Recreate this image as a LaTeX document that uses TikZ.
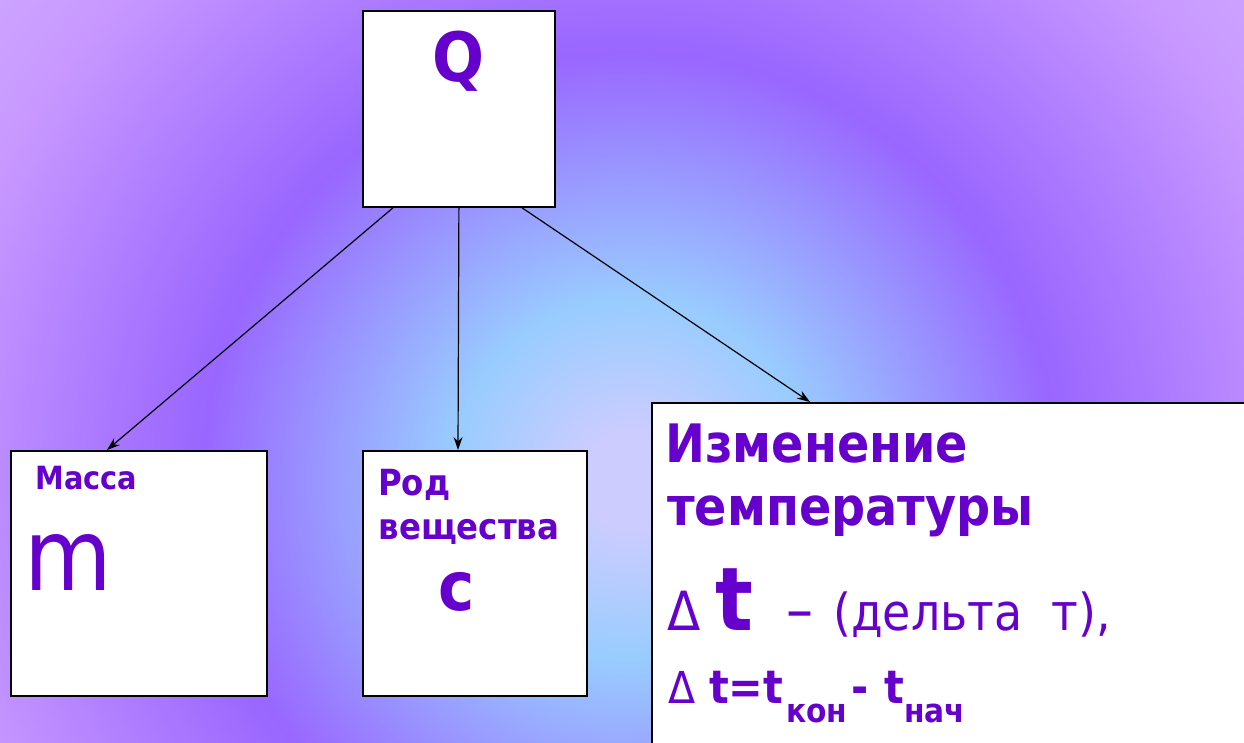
\documentclass[tikz,border=0pt]{standalone}
\usepackage{fontspec}
\setmainfont{DejaVu Sans}[FakeStretch=0.9]
\usetikzlibrary{arrows.meta,calc}
\definecolor{txt}{HTML}{6600CC}
\definecolor{bgO}{HTML}{CCCCFF}
\definecolor{bgA}{HTML}{99CCFF}
\definecolor{bgB}{HTML}{9966FF}
\definecolor{bgC}{HTML}{C898FF}
\definecolor{bgD}{HTML}{CCA4FF}
\pgfdeclareradialshading{bgshade}{\pgfpoint{0bp}{0bp}}{color(0bp)=(bgO); color(1.5bp)=(bgO); color(5.6bp)=(bgA); color(13.4bp)=(bgB); color(21.9bp)=(bgC); color(25bp)=(bgD); color(50bp)=(bgD)}
\begin{document}
\begin{tikzpicture}[x=1pt,y=-1pt,
  box/.style={draw=black,line width=1.8pt,fill=white,inner sep=0pt,anchor=north west},
  lbl/.style={text=txt,inner sep=0pt,anchor=base west},
  arr/.style={line width=1.2pt,-{Stealth[length=13pt,width=9pt]}}]
\useasboundingbox (0,0) rectangle (1244,743);
\begin{scope}
\clip (0,0) rectangle (1244,743);
\fill[bgD] (0,0) rectangle (1244,743);
\shade[shading=bgshade] (630,480) circle [radius=800];
% boxes
\node[box,minimum width=192pt,minimum height=196pt] (Q) at (362,10) {};
\node[box,minimum width=256pt,minimum height=245pt] (M) at (10,450) {};
\node[box,minimum width=224pt,minimum height=245pt] (R) at (362,450) {};
\node[box,minimum width=620pt,minimum height=360pt] (T) at (651,402) {};
% arrows
\draw[arr] ([xshift=31pt]Q.south west) -- ([xshift=97pt]M.north west);
\draw[arr] (Q.south) -- ([xshift=96pt]R.north west);
\draw[arr] ([xshift=160pt]Q.south west) -- ([xshift=159pt]T.north west);
% texts
\node[lbl,anchor=base] (tQ) at (458.5,82) {\fontsize{68}{68}\selectfont\bfseries Q};
\node[lbl] (tM) at (35.5,489) {\fontsize{32}{32}\selectfont\bfseries Масса};
\node[lbl] (tm) at (24,590) {\fontsize{100}{100}\selectfont m};
\node[lbl] (tR1) at (378,495) {\fontsize{36}{36}\selectfont\bfseries Род};
\node[lbl] (tR2) at (378.5,539) {\fontsize{36}{36}\selectfont\bfseries вещества};
\node[lbl,anchor=base] (tc) at (456.5,610) {\fontsize{68}{68}\selectfont\bfseries c};
\node[lbl] (t1) at (665,462) {\fontsize{53}{53}\selectfont\bfseries Изменение};
\node[lbl] (t2) at (667,525) {\fontsize{53}{53}\selectfont\bfseries температуры};
\node[lbl] (t3a) at (667,630) {\fontsize{54}{54}\selectfont Δ};
\node[lbl] (t3b) at (715,630) {\fontsize{88}{88}\selectfont\bfseries t};
\node[lbl] (t3c) at (786,630) {\fontsize{60}{60}\selectfont –};
\node[lbl] (t3d) at (833,630) {\fontsize{51}{51}\selectfont (дельта\ \ т),};
\node[lbl] (t4a) at (668,703) {\fontsize{44}{44}\selectfont Δ};
\node[lbl] (t4b) at (709,703) {\fontsize{46}{46}\selectfont\bfseries t=t};
\node[lbl] (t4c) at (786,722) {\fontsize{33}{33}\selectfont\bfseries кон};
\node[lbl] (t4d) at (851,703) {\fontsize{46}{46}\selectfont\bfseries -};
\node[lbl] (t4e) at (884,703) {\fontsize{46}{46}\selectfont\bfseries t};
\node[lbl] (t4f) at (904,722) {\fontsize{33}{33}\selectfont\bfseries нач};
\end{scope}
\end{tikzpicture}
\end{document}
